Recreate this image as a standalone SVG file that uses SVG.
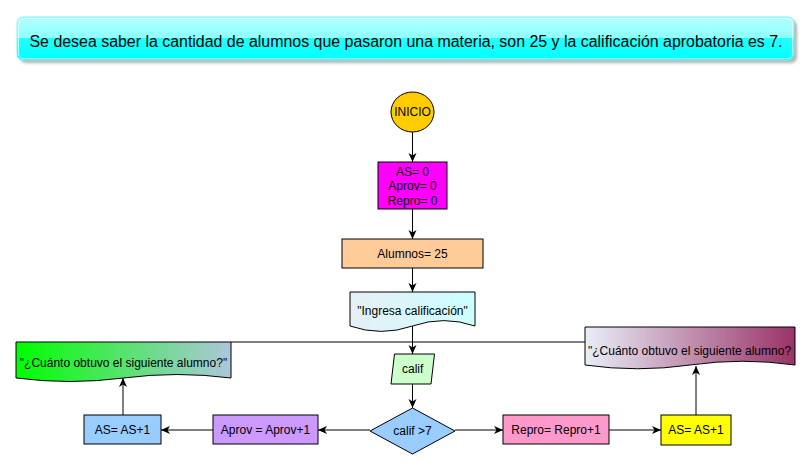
<svg xmlns="http://www.w3.org/2000/svg" width="811" height="469" viewBox="0 0 811 469">
<style>
text{font-family:"Liberation Sans",Arial,sans-serif;font-size:12px;fill:#000;}
.t{text-anchor:middle;dominant-baseline:central;}
.n{stroke:#000;stroke-width:1;}
.c{stroke:#000;stroke-width:1;fill:none;}
.a{marker-end:url(#arr);}
</style>
<defs>
<marker id="arr" viewBox="0 0 10 10" refX="9" refY="5" markerWidth="10" markerHeight="10" markerUnits="userSpaceOnUse" orient="auto">
<path d="M0,1 L9,5 L0,9 L2.5,5 Z" fill="#000"/>
</marker>
<linearGradient id="gTitle" x1="0" y1="0" x2="0" y2="1">
<stop offset="0" stop-color="#B3FFFF"/>
<stop offset="0.5" stop-color="#8CFFFF"/>
<stop offset="0.5" stop-color="#22FFFF"/>
<stop offset="1" stop-color="#00FFFF"/>
</linearGradient>
<linearGradient id="gIng" x1="0" y1="0" x2="1" y2="0">
<stop offset="0" stop-color="#E6EFF6"/>
<stop offset="1" stop-color="#CCFFFF"/>
</linearGradient>
<linearGradient id="gLeft" x1="0" y1="0" x2="1" y2="0">
<stop offset="0" stop-color="#00FF00"/>
<stop offset="1" stop-color="#AEC6DC"/>
</linearGradient>
<linearGradient id="gRight" x1="0" y1="0" x2="1" y2="0">
<stop offset="0" stop-color="#E8EEF8"/>
<stop offset="1" stop-color="#993366"/>
</linearGradient>
<filter id="blur" x="-5%" y="-30%" width="110%" height="160%">
<feGaussianBlur stdDeviation="1.5"/>
</filter>
</defs>

<g id="title">
<rect x="20" y="20" width="777" height="43" rx="6" fill="#000" opacity="0.3" filter="url(#blur)"/>
<rect x="17" y="17" width="777" height="43" rx="6" fill="url(#gTitle)" stroke="#66FFFF" stroke-width="1"/>
<rect x="18.5" y="18.5" width="774" height="40" rx="5" fill="none" stroke="#FFFFFF" stroke-opacity="0.7" stroke-width="1"/>
<text class="t" x="406" y="41" style="font-size:16px" textLength="753" lengthAdjust="spacingAndGlyphs">Se desea saber la cantidad de alumnos que pasaron una materia, son 25 y la calificación aprobatoria es 7.</text>
</g>

<g id="connectors">
<line class="c a" x1="412.5" y1="132" x2="412.5" y2="162"/>
<line class="c a" x1="412.5" y1="209" x2="412.5" y2="239"/>
<line class="c a" x1="412.5" y1="268" x2="412.5" y2="292"/>
<line class="c a" x1="412.5" y1="326" x2="412.5" y2="354"/>
<line class="c" x1="231" y1="342" x2="585" y2="342"/>
<line class="c a" x1="412.5" y1="384" x2="412.5" y2="408"/>
<line class="c a" x1="370" y1="430" x2="318" y2="430"/>
<line class="c a" x1="213" y1="430" x2="161" y2="430"/>
<line class="c a" x1="455" y1="430" x2="503" y2="430"/>
<line class="c a" x1="609" y1="430" x2="661" y2="430"/>
<line class="c a" x1="123" y1="415" x2="123" y2="378"/>
<line class="c a" x1="696" y1="415" x2="696" y2="366"/>
</g>

<g id="inicio">
<ellipse class="n" cx="412.5" cy="112" rx="21.5" ry="20" fill="#FFCC00"/>
<text class="t" x="412.5" y="112">INICIO</text>
</g>

<g id="init-vars">
<rect class="n" x="378" y="162" width="69" height="47" fill="#FF00FF"/>
<text class="t" x="412.5" y="171.5">AS= 0</text>
<text class="t" x="412.5" y="186">Aprov= 0</text>
<text class="t" x="412.5" y="200.5">Repro= 0</text>
</g>

<g id="alumnos">
<rect class="n" x="342" y="239" width="141" height="29" fill="#FFCC99"/>
<text class="t" x="412.5" y="253.5">Alumnos= 25</text>
</g>

<g id="ingresa">
<path class="n" fill="url(#gIng)" d="M350,292 L475,292 L475,326 Q443.75,315.2 412.5,326 Q381.25,336.8 350,326 Z"/>
<text class="t" x="412.5" y="311">"Ingresa calificación"</text>
</g>

<g id="calif">
<polygon class="n" points="394.5,354 434.5,354 431,384 391,384" fill="#CCFFCC"/>
<text class="t" x="412.7" y="369">calif</text>
</g>

<g id="decision">
<polygon class="n" points="412.5,408 455,431 412.5,454 370,431" fill="#99CCFF"/>
<text class="t" x="412.5" y="431">calif &gt;7</text>
</g>

<g id="aprov">
<rect class="n" x="213" y="415" width="105" height="29" fill="#CC99FF"/>
<text class="t" x="265.5" y="429.5">Aprov = Aprov+1</text>
</g>

<g id="as-left">
<rect class="n" x="84" y="415" width="77" height="29" fill="#99CCFF"/>
<text class="t" x="122.5" y="429.5">AS= AS+1</text>
</g>

<g id="repro">
<rect class="n" x="503" y="415" width="106" height="29" fill="#FF99CC"/>
<text class="t" x="556" y="429.5">Repro= Repro+1</text>
</g>

<g id="as-right">
<rect class="n" x="661" y="415" width="70" height="30" fill="#FFFF00"/>
<text class="t" x="696" y="430">AS= AS+1</text>
</g>

<g id="doc-left">
<path class="n" fill="url(#gLeft)" d="M16,342 L231,342 L231,378 Q177.25,371 123.5,378 Q69.75,385 16,378 Z"/>
<text class="t" x="123.5" y="363">"¿Cuánto obtuvo el siguiente alumno?"</text>
</g>

<g id="doc-right">
<path class="n" fill="url(#gRight)" d="M585,327 L795,327 L795,365 Q742.5,357.5 690,365 Q637.5,372.5 585,365 Z"/>
<text x="588" y="351" style="dominant-baseline:central">"¿Cuánto obtuvo el siguiente alumno?</text>
</g>
</svg>
